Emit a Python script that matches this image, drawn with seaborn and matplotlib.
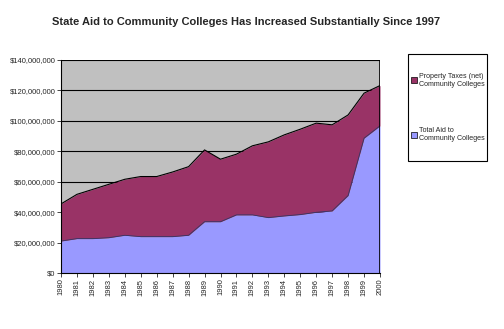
import matplotlib
matplotlib.use("Agg")
import matplotlib.pyplot as plt
import matplotlib.ticker as mticker
from matplotlib.patches import Rectangle
from matplotlib.lines import Line2D
import seaborn as sns
import pandas as pd

years = list(range(1980, 2001))
total_aid = [21.0, 22.6, 22.6, 23.2, 24.8, 23.9, 23.9, 23.9, 24.8, 33.7, 33.7,
             38.2, 38.2, 36.4, 37.5, 38.4, 39.9, 40.8, 50.9, 88.6, 96.7]
stack_top = [45.4, 51.7, 55.0, 58.3, 61.6, 63.4, 63.4, 66.4, 69.9, 80.9, 74.8,
             78.1, 83.6, 86.2, 90.8, 94.5, 98.5, 97.4, 103.9, 118.2, 123.2]
property_taxes = [t - a for t, a in zip(stack_top, total_aid)]

title = "State Aid to Community Colleges Has Increased Substantially Since 1997"
label_tax = "Property Taxes (net)\nCommunity Colleges"
label_aid = "Total Aid to\nCommunity Colleges"
c_tax = "#993366"
c_aid = "#9999FF"

sns.set_style("white")
plt.rcParams['font.family'] = ['Liberation Sans', 'DejaVu Sans']

df = pd.DataFrame({"year": years,
                   "aid": [v * 1e6 for v in total_aid],
                   "top": [(a + p) * 1e6 for a, p in zip(total_aid, property_taxes)]})

fig = plt.figure(figsize=(5.04, 3.29), dpi=100)
fig.patch.set_facecolor("white")
ax = fig.add_axes([61/504, 1 - 273/329, (380 - 61)/504, (273 - 60)/329])
ax.set_facecolor("#C0C0C0")

ax.stackplot(df["year"], df["aid"], df["top"] - df["aid"],
             colors=[c_aid, c_tax], linewidth=0)
sns.lineplot(data=df, x="year", y="aid", ax=ax, color="#333366", linewidth=0.6)
sns.lineplot(data=df, x="year", y="top", ax=ax, color="black", linewidth=0.8)

ax.set_xlim(1980, 2000)
ax.set_ylim(0, 140e6)
ax.yaxis.set_major_locator(mticker.MultipleLocator(20e6))
ax.yaxis.set_major_formatter(mticker.FuncFormatter(lambda v, p: f"${v:,.0f}"))
ax.set_xticks(years)
ax.set_xticklabels([str(y) for y in years], rotation=90, fontsize=5.5)
ax.tick_params(axis="y", labelsize=5.5, length=3, width=0.6, direction="out", left=True, pad=1)
ax.tick_params(axis="x", length=3, width=0.6, direction="out", bottom=True, pad=1)
ax.grid(axis="y", color="black", linewidth=0.8)
ax.set_axisbelow(True)
ax.set_xlabel("")
ax.set_ylabel("")
for s in ["top", "right"]:
    ax.spines[s].set_visible(False)
for s in ["left", "bottom"]:
    ax.spines[s].set_color("black")
    ax.spines[s].set_linewidth(0.8)
ax.axvline(2000, color="black", linewidth=1.2)

fig.text(246/504, 1 - 22/329, title, ha="center", va="center",
         fontsize=8, fontweight="bold")

# legend frame
fig.add_artist(Rectangle((408/504, 1 - 161/329), 79/504, 107/329,
                         transform=fig.transFigure, fill=False,
                         edgecolor="black", linewidth=0.8))
handles = [Line2D([], [], marker="s", linestyle="none", markersize=4,
                  markerfacecolor=c_tax, markeredgecolor="black", markeredgewidth=0.5),
           Line2D([], [], marker="s", linestyle="none", markersize=4,
                  markerfacecolor=c_aid, markeredgecolor="black", markeredgewidth=0.5)]
fig.legend(handles, [label_tax, label_aid], loc="upper left",
           bbox_to_anchor=(408/504, 1 - 69/329), frameon=False,
           fontsize=5.1, labelspacing=5.6, handlelength=0.6,
           handletextpad=0.4, borderpad=0)

fig.savefig("out.png", dpi=100)
